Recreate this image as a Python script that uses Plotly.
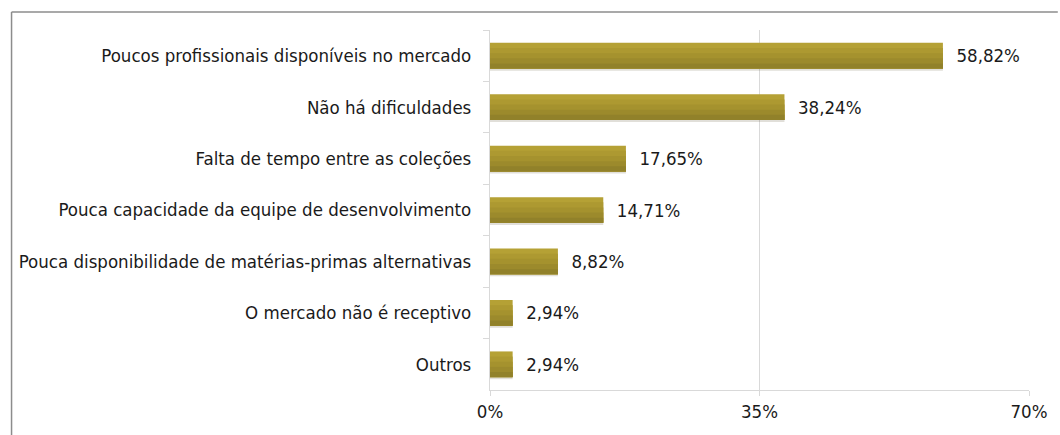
import plotly.graph_objects as go

categories = [
    "Poucos profissionais disponíveis no mercado",
    "Não há dificuldades",
    "Falta de tempo entre as coleções",
    "Pouca capacidade da equipe de desenvolvimento",
    "Pouca disponibilidade de matérias-primas alternativas",
    "O mercado não é receptivo",
    "Outros",
]
values = [58.82, 38.24, 17.65, 14.71, 8.82, 2.94, 2.94]
x_ticks = [0, 35, 70]
x_tick_labels = ["0%", "35%", "70%"]

FONT = "DejaVu Sans Condensed, sans-serif"

W, H = 1060, 435
L, R, T, B = 490, 27, 30, 45
pw = W - L - R
ph = H - T - B

# shading layers (top -> bottom) to mimic the gradient fill
band_colors = ["#B5A135", "#AD9931", "#A5922E", "#9C8A2C", "#91812A"]
bar_w = 0.5
n = len(band_colors)

fig = go.Figure()
# soft shadow under the bars
fig.add_trace(go.Bar(
    x=values, y=categories, orientation="h",
    marker=dict(color="rgba(120,110,80,0.22)", line=dict(width=0)),
    width=bar_w * 0.1, offset=bar_w / 2 - 0.01,
    hoverinfo="skip",
))
for i, c in enumerate(band_colors):
    top = -bar_w / 2 + i * bar_w / n
    fig.add_trace(go.Bar(
        x=values, y=categories, orientation="h",
        marker=dict(color=c, line=dict(width=0)),
        width=bar_w / 2 - top, offset=top,
        hoverinfo="skip",
    ))
# value labels
fig.add_trace(go.Bar(
    x=values, y=categories, orientation="h",
    marker=dict(color="rgba(0,0,0,0)", line=dict(width=0)),
    width=bar_w, offset=-bar_w / 2,
    texttemplate="\u00a0\u00a0%{x:.2f}%",
    textposition="outside",
    textfont=dict(family=FONT, size=18.5, color="#1a1a1a"),
    cliponaxis=False,
    hoverinfo="skip",
))

def px_to_xpaper(px):
    return (px - L) / pw

def py_to_ypaper(py):
    return (H - B - py) / ph

frame = dict(color="#8c8c8c", width=1.5)
fig.add_shape(type="line", xref="paper", yref="paper",
              x0=px_to_xpaper(8), x1=px_to_xpaper(1062),
              y0=py_to_ypaper(12), y1=py_to_ypaper(12), line=frame)
fig.add_shape(type="line", xref="paper", yref="paper",
              x0=px_to_xpaper(8), x1=px_to_xpaper(8),
              y0=py_to_ypaper(12), y1=py_to_ypaper(437), line=frame)

fig.update_layout(
    width=W, height=H,
    margin=dict(l=L, r=R, t=T, b=B, pad=0),
    paper_bgcolor="white", plot_bgcolor="white",
    separators=",.",
    showlegend=False,
    barmode="overlay",
    font=dict(family=FONT, size=18.5, color="#1a1a1a"),
)
fig.update_xaxes(
    range=[0, 70], tickvals=x_ticks, ticktext=x_tick_labels,
    showgrid=True, gridcolor="#d9d9d9", gridwidth=1,
    zeroline=False,
    showline=True, linecolor="#d9d9d9", linewidth=1,
    ticks="outside", ticklen=5, tickcolor="#d9d9d9",
    tickfont=dict(family=FONT, size=18.5, color="#1a1a1a"),
    fixedrange=True,
)
fig.update_yaxes(
    autorange="reversed",
    showgrid=False, zeroline=False,
    showline=True, linecolor="#d9d9d9", linewidth=1,
    ticks="outside", ticklen=6, tickcolor="#d9d9d9", tickson="boundaries",
    ticklabelstandoff=14,
    tickfont=dict(family=FONT, size=18.5, color="#1a1a1a"),
    fixedrange=True,
)

fig.write_html("out.html")
